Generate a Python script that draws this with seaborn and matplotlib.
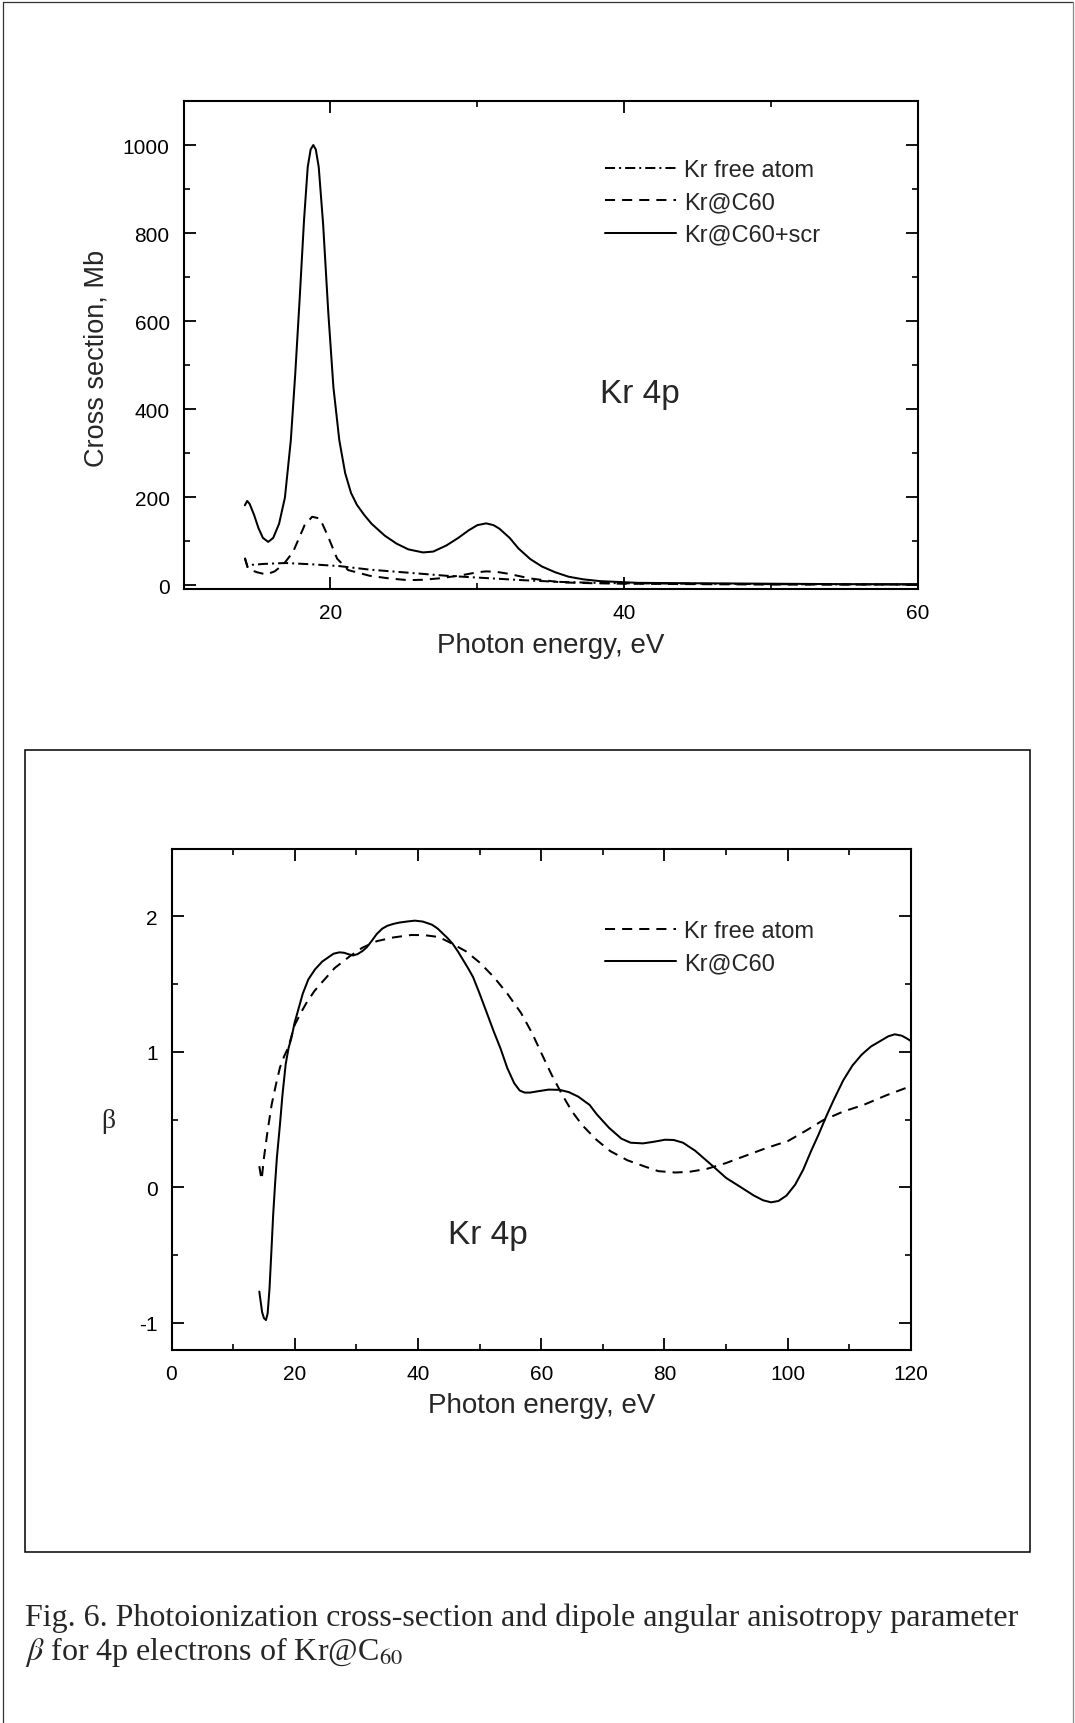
import numpy as np
import pandas as pd
import matplotlib
matplotlib.use("Agg")
import matplotlib.pyplot as plt
import seaborn as sns
from matplotlib.lines import Line2D
from matplotlib.patches import Rectangle
from matplotlib.ticker import MultipleLocator

# ---------------- data: cross section (Mb) ----------------
cs_scr_energy = [14.17, 14.33, 14.5, 14.8, 15.1, 15.4, 15.76, 16.1, 16.5, 16.9, 17.3, 17.6,
                 17.9, 18.2, 18.45, 18.65, 18.83, 19.0, 19.2, 19.5, 19.85, 20.2, 20.6, 21.0,
                 21.4, 21.8, 22.3, 22.8, 23.7, 24.5, 25.3, 26.3, 27.0, 27.9, 28.7, 29.4,
                 30.0, 30.6, 31.1, 31.5, 32.2, 32.8, 33.6, 34.4, 35.3, 36.2, 37.2, 38.3,
                 40.9, 45.0, 50.0, 55.0, 60.0]
cs_scr_value = [182, 192, 185, 160, 130, 108, 99, 108, 140, 200, 330, 480,
                650, 830, 950, 990, 1000, 990, 950, 820, 620, 450, 330, 255,
                210, 183, 160, 140, 113, 95, 82, 75, 77, 91, 108, 125,
                137, 141, 137, 129, 108, 84, 60, 43, 30, 20, 14, 10,
                6, 5, 4, 3, 3]

cs_c60_energy = [14.17, 14.35, 14.6, 15.0, 15.63, 16.2, 16.8, 17.45, 18.24, 18.75, 19.28, 19.8,
                 20.45, 21.2, 22.67, 24.0, 25.3, 26.3, 27.35, 28.9, 30.0, 30.6, 31.3, 32.04,
                 33.6, 35.7, 38.0, 40.0, 45.0, 50.0, 55.0, 60.0]
cs_c60_value = [63, 42, 35, 30, 25, 32, 48, 76, 137, 156, 152, 114,
                61, 35, 22, 16, 12, 13, 16, 23, 30, 32, 31, 27,
                16, 7, 5, 4, 3, 2, 2, 2]

cs_free_energy = [14.17, 14.35, 14.7, 15.5, 16.93, 18.75, 20.6, 22.66, 25.3, 27.9, 30.5, 33.1,
                  35.7, 38.0, 40.0, 45.0, 50.0, 55.0, 60.0]
cs_free_value = [62, 42, 47, 49, 51, 48, 44, 36, 29, 22, 17, 12,
                 8, 6, 5, 4, 3, 2.5, 2]

# ---------------- data: beta ----------------
beta_c60_energy = [14.25, 14.7, 15.0, 15.33, 15.6, 15.9, 16.2, 16.5, 16.8, 17.1, 17.6, 18.0,
                   18.53, 19.0, 19.44, 20.0, 20.5, 21.3, 22.2, 23.3, 24.46, 25.5, 26.3, 27.24,
                   28.0, 28.8, 29.47, 30.2, 31.0, 31.7, 32.5, 33.3, 34.2, 35.03, 36.0, 37.0,
                   38.3, 39.5, 40.8, 42.27, 43.2, 44.0, 44.8, 45.6, 46.5, 47.3, 48.1, 48.93,
                   50.0, 51.16, 52.3, 53.4, 54.5, 55.6, 56.5, 57.3, 58.2, 59.5, 61.2, 63.0,
                   64.5, 66.0, 67.85, 69.0, 71.0, 73.0, 74.5, 76.5, 78.0, 80.1, 81.5, 83.0,
                   85.0, 87.9, 90.0, 92.3, 94.5, 96.0, 97.3, 98.5, 99.8, 101.2, 102.5, 103.8,
                   105.0, 106.3, 107.5, 109.0, 110.5, 112.0, 113.5, 115.0, 116.3, 117.35,
                   118.5, 119.3, 120.0]
beta_c60_value = [-0.769, -0.92, -0.965, -0.979, -0.93, -0.75, -0.48, -0.2, 0.02, 0.22, 0.465, 0.68,
                  0.91, 1.03, 1.10, 1.22, 1.30, 1.43, 1.535, 1.61, 1.667, 1.70, 1.725, 1.735,
                  1.732, 1.72, 1.712, 1.722, 1.745, 1.773, 1.82, 1.87, 1.91, 1.931, 1.945, 1.955,
                  1.963, 1.969, 1.962, 1.939, 1.91, 1.875, 1.84, 1.80, 1.74, 1.68, 1.62, 1.553,
                  1.43, 1.289, 1.15, 1.024, 0.88, 0.77, 0.715, 0.70, 0.70, 0.71, 0.722, 0.72,
                  0.703, 0.67, 0.609, 0.54, 0.44, 0.36, 0.33, 0.325, 0.335, 0.352, 0.35, 0.33,
                  0.27, 0.155, 0.07, 0.004, -0.06, -0.095, -0.11, -0.10, -0.06, 0.02, 0.13, 0.27,
                  0.39, 0.53, 0.65, 0.79, 0.90, 0.98, 1.04, 1.08, 1.115, 1.13,
                  1.12, 1.10, 1.08]

beta_free_energy = [14.25, 14.45, 14.63, 15.0, 15.6, 16.26, 17.0, 17.6, 18.3, 18.95, 20.0, 21.0,
                    22.0, 23.2, 24.46, 26.5, 28.9, 31.0, 33.35, 36.0, 38.9, 41.0, 43.4, 45.5,
                    47.8, 50.0, 52.3, 54.5, 56.7, 58.5, 60.06, 61.7, 63.4, 65.0, 66.7, 69.0,
                    71.2, 74.0, 76.75, 79.0, 81.75, 84.0, 86.8, 90.0, 93.4, 96.5, 100.1, 103.0,
                    105.7, 109.0, 112.3, 116.0, 120.0]
beta_free_value = [0.157, 0.10, 0.058, 0.218, 0.42, 0.613, 0.77, 0.885, 0.97, 1.033, 1.20, 1.29,
                   1.37, 1.45, 1.516, 1.62, 1.705, 1.77, 1.818, 1.845, 1.863, 1.862, 1.848, 1.80,
                   1.742, 1.66, 1.553, 1.43, 1.289, 1.14, 0.987, 0.83, 0.684, 0.56, 0.457, 0.35,
                   0.268, 0.2, 0.155, 0.12, 0.11, 0.115, 0.136, 0.18, 0.238, 0.29, 0.344, 0.42,
                   0.495, 0.56, 0.609, 0.68, 0.748]

top_labels = ["Kr free atom", "Kr@C60", "Kr@C60+scr"]
bottom_labels = ["Kr free atom", "Kr@C60"]
caption_line1 = "Fig. 6. Photoionization cross-section and dipole angular anisotropy parameter"
caption_line2 = r"$\beta$ for 4p electrons of Kr@C$_{60}$"

# ---------------- style ----------------
sns.set_theme(style="ticks")
plt.rcParams["font.family"] = ["Liberation Sans", "DejaVu Sans"]
plt.rcParams["axes.unicode_minus"] = False
plt.rcParams["mathtext.fontset"] = "stix"
plt.rcParams["lines.solid_joinstyle"] = "round"
plt.rcParams["lines.dash_joinstyle"] = "round"

W, H = 1075, 1724
fig = plt.figure(figsize=(W / 100, H / 100), dpi=100)
fig.patch.set_facecolor("white")

def fig_rect(l, t, r, b):
    return [l / W, 1 - b / H, (r - l) / W, (b - t) / H]

LW = 1.45
DASH = (0, (5, 3.5))
DASHDOT = (0, (5, 2, 1, 2))

def style_axes(ax):
    for s in ax.spines.values():
        s.set_linewidth(1.5)
        s.set_color("black")
    ax.tick_params(which="both", direction="in", top=True, right=True,
                   colors="black", labelsize=15, pad=10)
    ax.tick_params(which="major", length=8.5, width=1.3)
    ax.tick_params(which="minor", length=4.5, width=1.2)
    ax.set_facecolor("white")

LEG = dict(loc="upper left", frameon=False, fontsize=17, borderpad=0, borderaxespad=0,
           handlelength=3.0, handletextpad=0.35, labelspacing=0.44)

# ---------------- top panel ----------------
ax1 = fig.add_axes(fig_rect(183.6, 102, 918, 590))
sns.lineplot(x=cs_free_energy, y=cs_free_value, ax=ax1, color="black", linewidth=LW,
             linestyle=DASHDOT, label=top_labels[0], sort=False, estimator=None)
sns.lineplot(x=cs_c60_energy, y=cs_c60_value, ax=ax1, color="black", linewidth=LW,
             linestyle=DASH, label=top_labels[1], sort=False, estimator=None)
sns.lineplot(x=cs_scr_energy, y=cs_scr_value, ax=ax1, color="black", linewidth=LW,
             linestyle="-", label=top_labels[2], sort=False, estimator=None)
ax1.set_xlim(10, 60)
ax1.set_ylim(-8, 1100)
ax1.xaxis.set_major_locator(MultipleLocator(20))
ax1.xaxis.set_minor_locator(MultipleLocator(10))
ax1.yaxis.set_major_locator(MultipleLocator(200))
ax1.yaxis.set_minor_locator(MultipleLocator(100))
style_axes(ax1)
ax1.set_xlabel("Photon energy, eV", fontsize=20, va="center")
ax1.xaxis.set_label_coords(0.5, -0.1148)
ax1.set_ylabel("Cross section, Mb", fontsize=19.5, va="center")
ax1.yaxis.set_label_coords(-0.118, 0.475)
ax1.text(0.6215, 0.4016, "Kr 4p", transform=ax1.transAxes, fontsize=24,
         ha="center", va="center")
ax1.legend(bbox_to_anchor=(0.574, 0.881), **LEG)

# ---------------- bottom panel ----------------
ax2 = fig.add_axes(fig_rect(171.5, 849.7, 911, 1351))
sns.lineplot(x=beta_free_energy, y=beta_free_value, ax=ax2, color="black", linewidth=LW,
             linestyle=DASH, label=bottom_labels[0], sort=False, estimator=None)
sns.lineplot(x=beta_c60_energy, y=beta_c60_value, ax=ax2, color="black", linewidth=LW,
             linestyle="-", label=bottom_labels[1], sort=False, estimator=None)
ax2.set_xlim(0, 120)
ax2.set_ylim(-1.2, 2.5)
ax2.xaxis.set_major_locator(MultipleLocator(20))
ax2.xaxis.set_minor_locator(MultipleLocator(10))
ax2.yaxis.set_major_locator(MultipleLocator(1))
ax2.yaxis.set_minor_locator(MultipleLocator(0.5))
style_axes(ax2)
ax2.set_xlabel("Photon energy, eV", fontsize=20, va="center")
ax2.xaxis.set_label_coords(0.5, -0.1097)
ax2.set_ylabel("β", fontsize=20, rotation=0, va="center", ha="center",
               family=["Liberation Serif", "DejaVu Serif"])
ax2.yaxis.set_label_coords(-0.0859, 0.4588)
ax2.text(0.428, 0.230, "Kr 4p", transform=ax2.transAxes, fontsize=24,
         ha="center", va="center")
ax2.legend(bbox_to_anchor=(0.586, 0.858), **LEG)

# ---------------- frames ----------------
fig.add_artist(Rectangle((25.3 / W, 1 - 1553 / H), (1030 - 25.3) / W, (1553 - 750.8) / H,
                         transform=fig.transFigure, fill=False, edgecolor="black",
                         linewidth=1.1))
fig.add_artist(Line2D([3 / W, 3 / W], [0, 1 - 3 / H], transform=fig.transFigure,
                      color="#333333", linewidth=0.9))
fig.add_artist(Line2D([3 / W, 1073 / W], [1 - 3 / H, 1 - 3 / H], transform=fig.transFigure,
                      color="#333333", linewidth=0.9))
fig.add_artist(Line2D([1073 / W, 1073 / W], [0, 1 - 3 / H], transform=fig.transFigure,
                      color="#888888", linewidth=0.9))

# ---------------- caption ----------------
serif = ["Liberation Serif", "DejaVu Serif"]
fig.text(25 / W, 1 - 1626 / H, caption_line1, fontsize=23, family=serif,
         ha="left", va="baseline")
fig.text(25 / W, 1 - 1660 / H, caption_line2, fontsize=23, family=serif,
         ha="left", va="baseline")

fig.savefig("out.png", dpi=100, facecolor="white")
